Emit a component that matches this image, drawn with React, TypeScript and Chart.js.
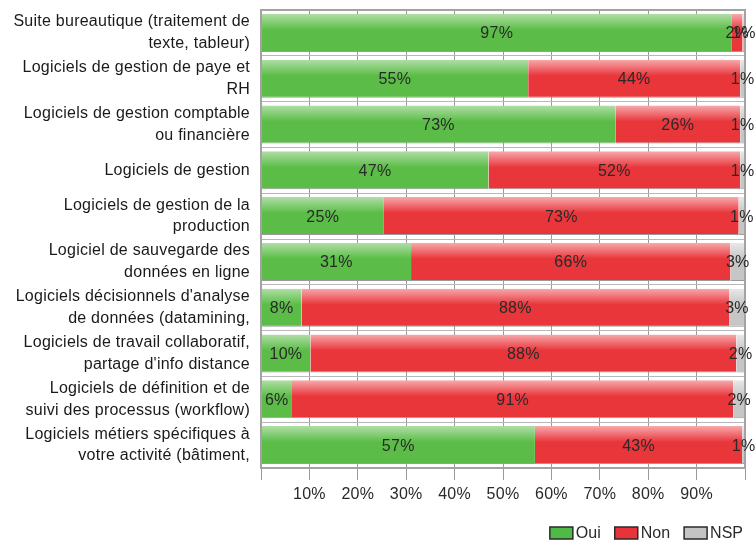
import React, { useEffect, useRef } from "react";
import { Chart, registerables } from "chart.js";

Chart.register(...registerables);

const categories: string[][] = [
  ["Suite bureautique (traitement de", "texte, tableur)"],
  ["Logiciels de gestion de paye et", "RH"],
  ["Logiciels de gestion comptable", "ou financière"],
  ["Logiciels de gestion"],
  ["Logiciels de gestion de la", "production"],
  ["Logiciel de sauvegarde des", "données en ligne"],
  ["Logiciels décisionnels d'analyse", "de données (datamining,"],
  ["Logiciels de travail collaboratif,", "partage d'info distance"],
  ["Logiciels de définition et de", "suivi des processus (workflow)"],
  ["Logiciels métiers spécifiques à", "votre activité (bâtiment,"],
];

const oui = [97.3, 55.2, 73.2, 47, 25.4, 31, 8.4, 10.2, 6.4, 56.6];
const non = [2.2, 43.8, 25.8, 52, 73.3, 66, 88.3, 88, 91.2, 42.8];
const nsp = [0.5, 1, 1, 1, 1.3, 3, 3.3, 1.8, 2.4, 0.6];

const seriesNames = ["Oui", "Non", "NSP"];
const xTicks = [10, 20, 30, 40, 50, 60, 70, 80, 90];

const FONT = "'Liberation Sans', Arial, sans-serif";
const BAR_PCT = 0.83;

function gradient(top: string, bottom: string) {
  return (ctx: any) => {
    const chart = ctx.chart;
    const y = chart.scales && chart.scales.y;
    if (!y || ctx.type !== "data" || !chart.chartArea) return bottom;
    const cy = y.getPixelForValue(ctx.dataIndex);
    const h = ((chart.chartArea.bottom - chart.chartArea.top) / categories.length) * BAR_PCT;
    const g = chart.ctx.createLinearGradient(0, cy - h / 2, 0, cy + h / 2);
    g.addColorStop(0, top);
    g.addColorStop(0.42, bottom);
    g.addColorStop(1, bottom);
    return g;
  };
}

const spacingPlugin = {
  id: "spacing",
  beforeDraw(chart: any) {
    chart.ctx.letterSpacing = "0.25px";
  },
};

const labelPlugin = {
  id: "segLabels",
  afterDatasetsDraw(chart: any) {
    const ctx = chart.ctx;
    ctx.save();
    ctx.font = `16px ${FONT}`;
    ctx.fillStyle = "#2a2a2a";
    ctx.textAlign = "center";
    ctx.textBaseline = "middle";
    chart.data.datasets.forEach((ds: any, di: number) => {
      const meta = chart.getDatasetMeta(di);
      meta.data.forEach((bar: any, i: number) => {
        const v = ds.data[i];
        const x = (bar.x + bar.base) / 2;
        ctx.fillText(Math.round(v) + "%", x, bar.y + 1);
      });
    });
    ctx.restore();
  },
};

const framePlugin = {
  id: "frame",
  afterDatasetsDraw(chart: any) {
    const { left, top, right, bottom } = chart.chartArea;
    const ctx = chart.ctx;
    ctx.save();
    ctx.strokeStyle = "#a3a3a3";
    ctx.lineWidth = 2;
    ctx.strokeRect(left, top, right - left, bottom - top);
    ctx.restore();
  },
};

const legendPlugin = {
  id: "customLegend",
  afterDraw(chart: any) {
    const ctx = chart.ctx;
    ctx.save();
    ctx.font = `16px ${FONT}`;
    ctx.letterSpacing = "0px";
    ctx.textBaseline = "middle";
    ctx.textAlign = "left";
    const boxW = 23;
    const boxH = 12;
    const gapText = 3;
    const gapItem = 14;
    const cy = 533;
    const items = chart.data.datasets.map((ds: any) => ({
      text: ds.label,
      color: ds.solidColor,
      w: ctx.measureText(ds.label).width,
    }));
    const total = items.reduce((s: number, it: any) => s + boxW + gapText + it.w, 0) + gapItem * (items.length - 1);
    let x = 743 - total;
    items.forEach((it: any) => {
      ctx.fillStyle = it.color;
      ctx.fillRect(x, cy - boxH / 2, boxW, boxH);
      ctx.strokeStyle = "#2a2a2a";
      ctx.lineWidth = 1.5;
      ctx.strokeRect(x, cy - boxH / 2, boxW, boxH);
      ctx.fillStyle = "#2a2a2a";
      ctx.fillText(it.text, x + boxW + gapText, cy + 1);
      x += boxW + gapText + it.w + gapItem;
    });
    ctx.restore();
  },
};

export default function App() {
  const ref = useRef<HTMLCanvasElement>(null);
  useEffect(() => {
    document.body.style.margin = "0";
    const chart = new Chart(ref.current!, {
      type: "bar",
      data: {
        labels: categories,
        datasets: [
          { label: seriesNames[0], data: oui, backgroundColor: gradient("#b0dea6", "#5bbd47"), solidColor: "#4fba45" } as any,
          { label: seriesNames[1], data: non, backgroundColor: gradient("#f7a9ac", "#e9363b"), solidColor: "#e8333a" } as any,
          { label: seriesNames[2], data: nsp, backgroundColor: gradient("#e8e8e8", "#c6c6c6"), solidColor: "#c4c4c4" } as any,
        ],
      },
      options: {
        indexAxis: "y",
        responsive: false,
        animation: false,
        maintainAspectRatio: false,
        layout: { padding: { top: 10, right: 10, bottom: 38, left: 0 } },
        datasets: {
          bar: {
            barPercentage: BAR_PCT,
            categoryPercentage: 1,
            borderColor: "#9a9a9a",
            borderWidth: { top: 0, right: 0, bottom: 1, left: 0 },
            borderSkipped: false,
          },
        },
        scales: {
          x: {
            stacked: true,
            min: 0,
            max: 100,
            grid: { color: "#9a9a9a", tickLength: 12, lineWidth: 1 },
            border: { display: false },
            afterBuildTicks: (axis: any) => {
              axis.ticks = [0, ...xTicks, 100].map((v) => ({ value: v }));
            },
            afterFit: (axis: any) => {
              axis.height = 35;
              axis.paddingLeft = 0;
              axis.paddingRight = 0;
            },
            ticks: {
              font: { family: FONT, size: 16 },
              color: "#2a2a2a",
              padding: 5,
              maxRotation: 0,
              autoSkip: false,
              callback: (v: any) => (xTicks.includes(Number(v)) ? v + "%" : ""),
            },
          },
          y: {
            stacked: true,
            grid: { color: "#b8b8b8", offset: true, drawTicks: false },
            border: { display: false },
            afterFit: (axis: any) => {
              axis.width = 261;
              axis.paddingTop = 0;
              axis.paddingBottom = 0;
            },
            ticks: {
              font: { family: FONT, size: 16, lineHeight: 1.37 },
              color: "#1a1a1a",
              padding: 11,
              autoSkip: false,
            },
          },
        },
        plugins: {
          tooltip: { enabled: false },
          legend: { display: false },
        },
      },
      plugins: [spacingPlugin, framePlugin, labelPlugin, legendPlugin],
    });
    return () => chart.destroy();
  }, []);
  return (
    <div style={{ width: 755, height: 541 }}>
      <canvas ref={ref} width={755} height={541} style={{ width: 755, height: 541 }} />
    </div>
  );
}
